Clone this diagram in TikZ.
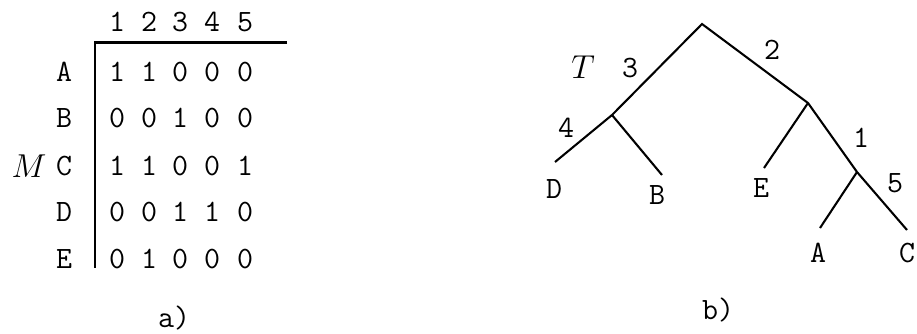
\documentclass[tikz,border=0pt]{standalone}
\usepackage{fontspec}
\begin{document}
\begin{tikzpicture}[x=0.4348pt,y=-0.4348pt,
  txt/.style={inner sep=0pt,font=\fontsize{13.5}{16}\selectfont\ttfamily},
  mth/.style={inner sep=0pt,font=\fontsize{13.5}{16}\selectfont},
  bar/.style={line width=1.3pt},
  branch/.style={line width=0.9pt}]
\useasboundingbox (0,0) rectangle (917,333);
% matrix M
\foreach \c/\x in {1/117,2/149,3/180,4/212,5/245}
  \node[txt] (h\c) at (\x,22) {\c};
\coordinate (hl0) at (95,42);
\coordinate (hl1) at (287,42);
\coordinate (vl1) at (95,268);
\draw[bar] (hl1) -- (hl0) -- (vl1);
\node[mth] (M) at (29,166) {$M$};
\foreach \r/\y/\vals in {A/72/{1,1,0,0,0},B/118/{0,0,1,0,0},C/166/{1,1,0,0,1},D/212/{0,0,1,1,0},E/259/{0,1,0,0,0}}{
  \node[txt] (r\r) at (64,\y) {\r};
  \foreach \v [count=\i] in \vals {
    \pgfmathsetmacro{\xx}{{117,149,180,212,245}[\i-1]}
    \node[txt] (m\r\i) at (\xx,\y) {\v};
  }
}
\node[txt] (capa) at (174,318) {a)};
% tree T
\coordinate (root) at (702,24);
\coordinate (n3) at (612,115);
\coordinate (n2) at (808,103);
\coordinate (n1) at (857,172);
\coordinate (eD) at (555,162);
\coordinate (eB) at (662,175);
\coordinate (eE) at (764,168);
\coordinate (eA) at (820,228);
\coordinate (eC) at (907,230);
\draw[branch] (eD) -- (n3) -- (root) -- (n2) -- (n1) -- (eC);
\draw[branch] (n3) -- (eB);
\draw[branch] (n2) -- (eE);
\draw[branch] (n1) -- (eA);
\node[txt] (lD) at (554,189) {D};
\node[txt] (lB) at (657,195) {B};
\node[txt] (lE) at (761,188) {E};
\node[txt] (lA) at (818,253) {A};
\node[txt] (lC) at (907,253) {C};
\node[txt] (w3) at (630,68) {3};
\node[txt] (w2) at (772,50) {2};
\node[txt] (w4) at (566,128) {4};
\node[txt] (w1) at (861,138) {1};
\node[txt] (w5) at (895,183) {5};
\node[mth] (T) at (583,67) {$T$};
\node[txt] (capb) at (718,310) {b)};
\end{tikzpicture}
\end{document}
